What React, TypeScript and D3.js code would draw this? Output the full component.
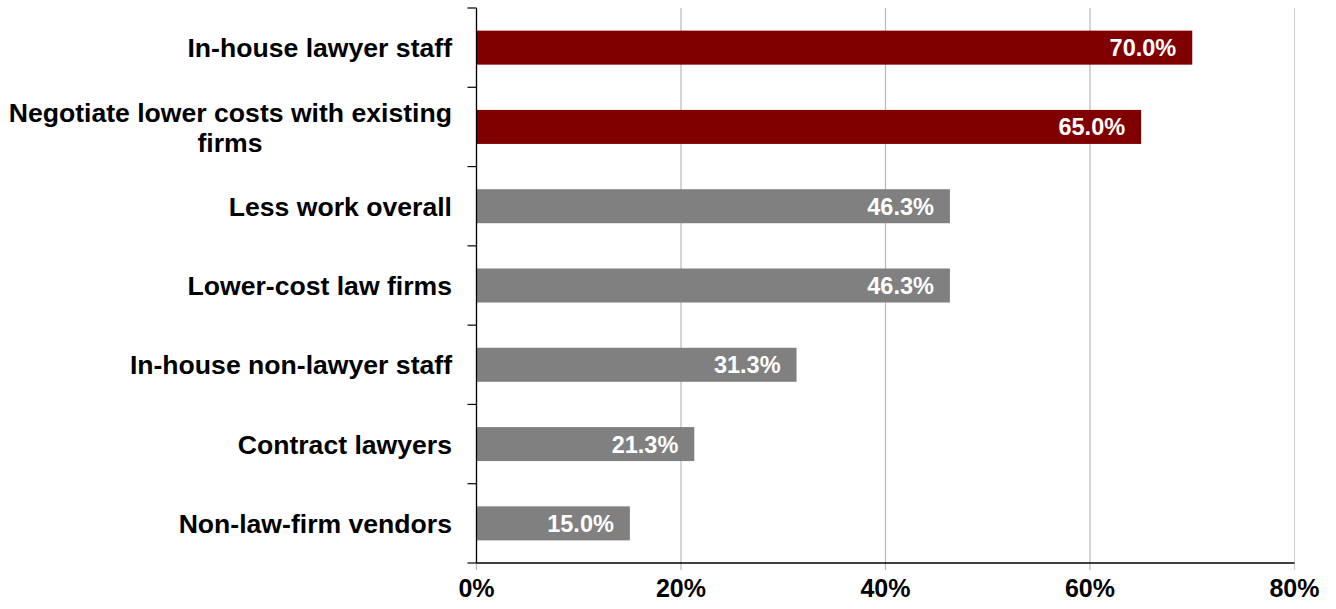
import React from "react";
import * as d3 from "d3";

const categories = [
  "In-house lawyer staff",
  "Negotiate lower costs with existing firms",
  "Less work overall",
  "Lower-cost law firms",
  "In-house non-lawyer staff",
  "Contract lawyers",
  "Non-law-firm vendors",
];
const labelLines = [
  ["In-house lawyer staff"],
  ["Negotiate lower costs with existing", "firms"],
  ["Less work overall"],
  ["Lower-cost law firms"],
  ["In-house non-lawyer staff"],
  ["Contract lawyers"],
  ["Non-law-firm vendors"],
];
const values = [70.0, 65.0, 46.3, 46.3, 31.3, 21.3, 15.0];
const highlighted = [true, true, false, false, false, false, false];
const xTicks = [0, 20, 40, 60, 80];

const W = 1336;
const H = 609;
const left = 476.5;
const right = 1294.5;
const top = 8;
const bottom = 563;
const FONT = "'Liberation Sans', Arial, sans-serif";

export default function App() {
  const x = d3.scaleLinear().domain([0, 80]).range([left, right]);
  const y = d3
    .scaleBand<string>()
    .domain(categories)
    .range([top, bottom])
    .paddingInner(0.571)
    .paddingOuter(0.2855);
  const boundaries = d3.range(categories.length + 1).map((i) => top + i * ((bottom - top) / categories.length));

  return (
    <svg width={W} height={H} style={{ position: "absolute", left: 0, top: 0, background: "#fff" }} fontFamily={FONT}>
      {xTicks.map((t) => (
        <line key={"g" + t} x1={x(t)} x2={x(t)} y1={top} y2={bottom + 7} stroke={t === 80 ? "#d0d0d0" : "#b8b8b8"} strokeWidth={1.2} />
      ))}
      {categories.map((c, i) => (
        <rect key={c} x={x(0)} y={y(c)} width={x(values[i]) - x(0)} height={y.bandwidth()} fill={highlighted[i] ? "#800000" : "#808080"} />
      ))}
      {categories.map((c, i) => (
        <text key={"v" + c} x={x(values[i]) - 16} y={(y(c) as number) + y.bandwidth() / 2} dy="0.36em" textAnchor="end" fill="#fff" fontWeight="bold" fontSize={23.5}>
          {values[i].toFixed(1) + "%"}
        </text>
      ))}
      <line x1={left} x2={left} y1={top} y2={bottom} stroke="#000" strokeWidth={1.3} />
      <line x1={left} x2={right} y1={bottom} y2={bottom} stroke="#000" strokeWidth={1.3} />
      {boundaries.map((b, i) => (
        <line key={"t" + i} x1={left - 9} x2={left} y1={b} y2={b} stroke="#000" strokeWidth={1.2} />
      ))}
      {categories.map((c, i) => {
        const lines = labelLines[i];
        const cy = (y(c) as number) + y.bandwidth() / 2;
        const lh = 30;
        const y0 = cy - ((lines.length - 1) * lh) / 2;
        return (
          <g key={"l" + c}>
            {lines.map((ln, j) => (
              <text
                key={j}
                x={lines.length > 1 && j > 0 ? 230 : 452}
                y={y0 + j * lh}
                dy="0.36em"
                textAnchor={lines.length > 1 && j > 0 ? "middle" : "end"}
                fill="#000"
                fontWeight="bold"
                fontSize={26.6}
              >
                {ln}
              </text>
            ))}
          </g>
        );
      })}
      {xTicks.map((t) => (
        <text key={"x" + t} x={x(t)} y={597} textAnchor="middle" fill="#000" fontWeight="bold" fontSize={25}>
          {t + "%"}
        </text>
      ))}
    </svg>
  );
}
